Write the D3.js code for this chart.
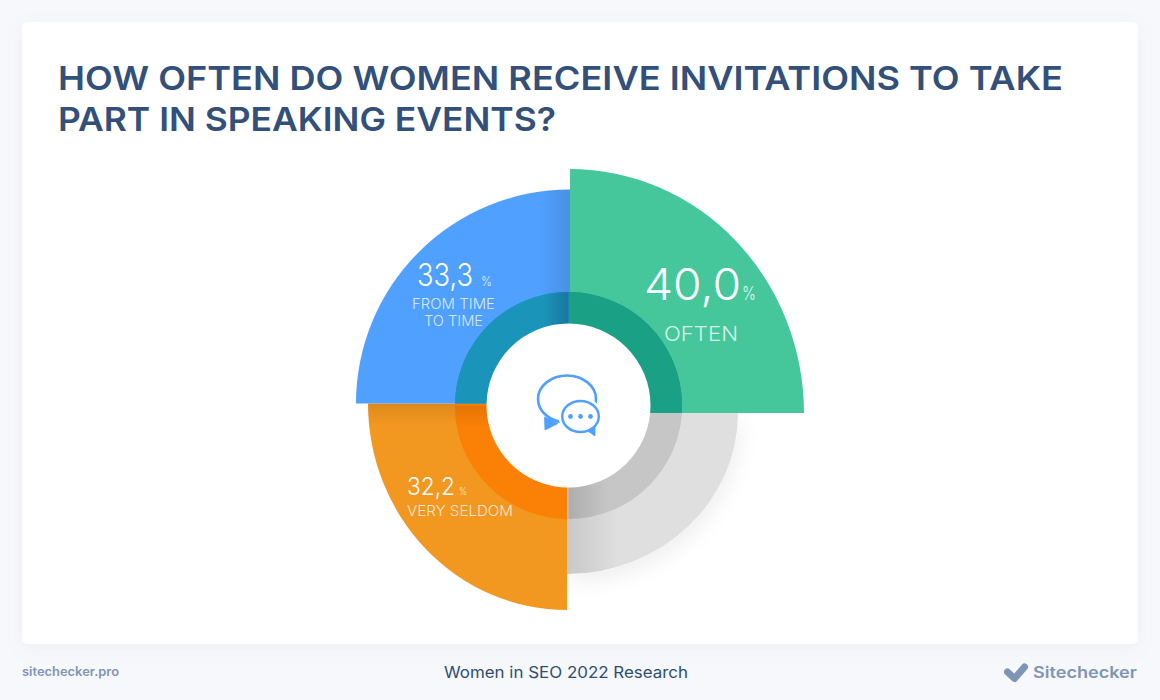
<!DOCTYPE html>
<html><head><meta charset="utf-8">
<script src="https://cdnjs.cloudflare.com/ajax/libs/d3/7.8.5/d3.min.js"></script>
<style>html,body{margin:0;padding:0;background:#f7f8fc}svg{display:block}text{font-family:Inter,"Open Sans",sans-serif}</style>
</head><body><svg id="c" width="1160" height="700"></svg>
<script>
const titleLines = ["HOW OFTEN DO WOMEN RECEIVE INVITATIONS TO TAKE", "PART IN SPEAKING EVENTS?"];
const categories = ["OFTEN", "FROM TIME TO TIME", "VERY SELDOM", "(unlabelled)"];
const values = [40.0, 33.3, 32.2, 26];
const outerColors = ["#46c79b", "#4fa0ff", "#f2971f", "#dfdfdf"];
const ringColors = ["#1aa085", "#1a94b8", "#fb8006", "#c6c6c6"];
const labelLines = [["OFTEN"], ["FROM TIME", "TO TIME"], ["VERY SELDOM"], []];
const clockwiseOrder = [0, 3, 2, 1];

const W = 1160, H = 700, cx = 568.5, cy = 405.5;
const svg = d3.select("#c");
const defs = svg.append("defs");

const sh = defs.append("filter").attr("id","cardShadow").attr("x","-5%").attr("y","-5%").attr("width","110%").attr("height","110%");
sh.append("feDropShadow").attr("dx",0).attr("dy",4).attr("stdDeviation",8).attr("flood-color","#8a94b0").attr("flood-opacity",0.09);
const sg = defs.append("filter").attr("id","greyShadow").attr("x","-20%").attr("y","-20%").attr("width","150%").attr("height","150%");
sg.append("feDropShadow").attr("dx",3).attr("dy",9).attr("stdDeviation",9).attr("flood-color","#000").attr("flood-opacity",0.06);

function grad(id, x2, y2, stops){
  const g = defs.append("linearGradient").attr("id",id).attr("x1",0).attr("y1",0).attr("x2",x2).attr("y2",y2);
  stops.forEach(s => g.append("stop").attr("offset",s[0]).attr("stop-color",s[1]));
  return `url(#${id})`;
}
const outerFill = [
  outerColors[0],
  grad("gB",1,0,[[0.86,outerColors[1]],[1,"#4a90e2"]]),
  grad("gO",0,1,[[0,"#dd891d"],[0.1,outerColors[2]]]),
  grad("gG",1,0,[[0,"#c8c8c8"],[0.3,outerColors[3]]])
];
const ringFill = [
  ringColors[0],
  grad("rB",1,0,[[0.78,ringColors[1]],[1,"#1a76a2"]]),
  grad("rO",0,1,[[0,"#e57505"],[0.2,ringColors[2]]]),
  grad("rG",1,0,[[0,"#adadad"],[0.35,ringColors[3]]])
];

svg.append("rect").attr("x",22).attr("y",22).attr("width",1116).attr("height",622).attr("rx",6).attr("fill","#fff").attr("filter","url(#cardShadow)");

svg.append("g").selectAll("text").data(titleLines).join("text")
  .attr("x",58).attr("y",(d,i)=>90+i*40.5).attr("font-size",33).attr("font-weight",600).attr("fill","#32507a")
  .attr("textLength",(d,i)=>i?498:1005).attr("lengthAdjust","spacingAndGlyphs").text(d=>d);

// slices: each a quarter turn from d3.pie, clockwise from 12 o'clock
const turn = d3.pie().sort(null).value(1);
const rScale = d3.scaleLinear().domain([26,32.2,33.3,40]).range([161,206.5,214,244]);
const aspect = {0:234/244, 1:1, 2:199/206.5, 3:171/161};
const apexOffset = {0:[1.5,7.5], 1:[1.5,-2], 2:[-1.5,-2], 3:[-1.5,7.5]};
const pieData = turn(clockwiseOrder).map(p=>({...p,i:p.data,value:values[p.data]}));
const arcPath = d3.arc().innerRadius(0).outerRadius(d=>rScale(d.value));
const tf = d => `translate(${cx+apexOffset[d.i][0]},${cy+apexOffset[d.i][1]}) scale(${aspect[d.i]},1)`;

pieData.forEach(d=>{
  defs.append("clipPath").attr("id","cp"+d.i).append("path").attr("d",arcPath(d)).attr("transform",tf(d));
});

const order = [3,2,1,0].map(i=>pieData.find(d=>d.i===i));
svg.append("g").selectAll("path").data(order).join("path")
  .attr("d",arcPath).attr("transform",tf).attr("fill",d=>outerFill[d.i])
  .attr("filter",d=>d.i===3?"url(#greyShadow)":null);

const ringArc = d3.arc().innerRadius(81.5).outerRadius(113.5).startAngle(0).endAngle(2*Math.PI);
const ringQuarter = d3.arc().innerRadius(81.5).outerRadius(113.5);
const ringG = svg.append("g");
order.forEach(d=>{
  const q = ringG.append("g").attr("clip-path",`url(#cp${d.i})`);
  q.append("path").attr("d",ringArc()).attr("transform",`translate(${cx},${cy})`).attr("fill",ringColors[d.i]);
  q.append("path").attr("d",ringQuarter(d)).attr("transform",`translate(${cx},${cy})`).attr("fill",ringFill[d.i]);
});
svg.append("circle").attr("cx",cx).attr("cy",cy).attr("r",82).attr("fill","#fff");

// labels
const fmt = d3.formatLocale({decimal:",",thousands:".",grouping:[3],currency:["","%"]}).format(".1f");
const valueStyle = [
  {x:644,y:300,size:44,len:97,px:742,ps:18,pl:14},
  {x:417,y:286,size:31,len:56,px:481,ps:13,pl:11},
  {x:407,y:495,size:24,len:48,px:459,ps:10.5,pl:8}
];
const catStyle = [
  {x:701,ys:[341],size:20,lens:[74]},
  {x:453.5,ys:[309,326],size:14,lens:[83,59]},
  {x:460,ys:[515.5],size:14.5,lens:[106]}
];
const labels = svg.append("g");
valueStyle.forEach((s,i)=>{
  labels.append("text").attr("x",s.x).attr("y",s.y).attr("font-size",s.size).attr("font-weight",300)
    .attr("fill","#fff").attr("textLength",s.len).attr("lengthAdjust","spacingAndGlyphs").text(fmt(values[i]));
  labels.append("text").attr("x",s.px).attr("y",s.y).attr("font-size",s.ps).attr("font-weight",300)
    .attr("fill","#fff").attr("fill-opacity",0.85).attr("textLength",s.pl).attr("lengthAdjust","spacingAndGlyphs").text("%");
  labelLines[i].forEach((t,j)=>{
    labels.append("text").attr("x",catStyle[i].x).attr("y",catStyle[i].ys[j]).attr("text-anchor","middle")
      .attr("font-size",catStyle[i].size).attr("font-weight",300).attr("fill","#fff").attr("fill-opacity",0.78)
      .attr("textLength",catStyle[i].lens[j]).attr("lengthAdjust","spacingAndGlyphs").text(t);
  });
});

// icon
const icon = svg.append("g").attr("stroke-linejoin","round");
const blue = "#4fa0ff";
icon.append("ellipse").attr("cx",567).attr("cy",399).attr("rx",29).attr("ry",23.5).attr("fill","#fff").attr("stroke",blue).attr("stroke-width",2.6);
icon.append("path").attr("d","M544.5,417L545,430L558,423.5L551,420Z").attr("fill",blue).attr("stroke",blue).attr("stroke-width",0.8);
icon.append("ellipse").attr("cx",580.5).attr("cy",416.5).attr("rx",22).attr("ry",19.5).attr("fill","#fff");
icon.append("path").attr("d","M587,430.5L595,426.5L595,436Z").attr("fill",blue).attr("stroke",blue).attr("stroke-width",0.8);
icon.append("ellipse").attr("cx",580.5).attr("cy",416.5).attr("rx",18.3).attr("ry",15.5).attr("fill","#fff").attr("stroke",blue).attr("stroke-width",2.4);
[-10,0,10].forEach(dx=>icon.append("circle").attr("cx",580.5+dx).attr("cy",416.5).attr("r",2.4).attr("fill",blue));

// footer
svg.append("text").attr("x",22).attr("y",676).attr("font-size",12.5).attr("font-weight",600).attr("fill","#7f95b5")
  .attr("textLength",97).attr("lengthAdjust","spacingAndGlyphs").text("sitechecker.pro");
svg.append("text").attr("x",444).attr("y",678).attr("font-size",15.5).attr("font-weight",400).attr("fill","#2f4d73")
  .attr("textLength",244).attr("lengthAdjust","spacingAndGlyphs").text("Women in SEO 2022 Research");
svg.append("text").attr("x",1033).attr("y",678).attr("font-size",16).attr("font-weight",600).attr("fill","#7f95b5")
  .attr("textLength",104).attr("lengthAdjust","spacingAndGlyphs").text("Sitechecker");
svg.append("path").attr("d","M1007.5,672L1014.5,678.5L1024.5,667").attr("fill","none").attr("stroke","#7f95b5")
  .attr("stroke-width",7).attr("stroke-linecap","round").attr("stroke-linejoin","round");
</script></body></html>
